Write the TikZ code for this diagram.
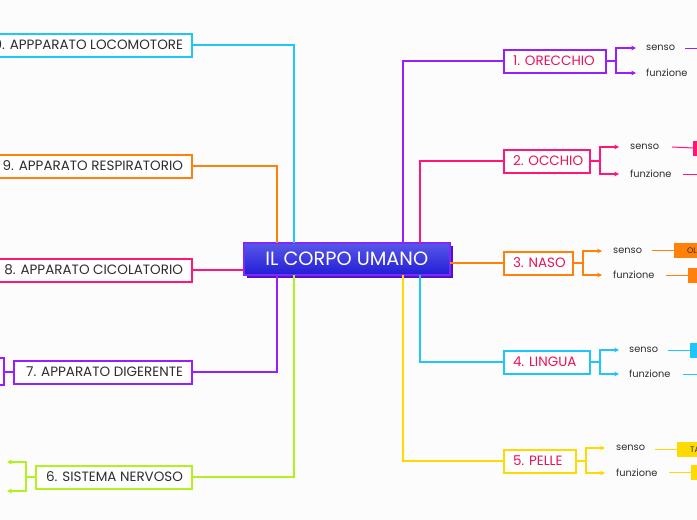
\documentclass[tikz,border=0pt]{standalone}
\usepackage{fontspec}
\setmainfont{Poppins}
\usetikzlibrary{arrows.meta}
\definecolor{cCyan}{RGB}{30,198,250}
\definecolor{cOrange}{RGB}{255,128,10}
\definecolor{cPink}{RGB}{255,22,118}
\definecolor{cViolet}{RGB}{150,30,255}
\definecolor{cLime}{RGB}{178,240,30}
\definecolor{cYellow}{RGB}{255,218,0}
\definecolor{txt}{RGB}{45,45,50}
\definecolor{crim}{RGB}{232,20,85}
\definecolor{bg}{RGB}{252,252,252}
\definecolor{ctop}{RGB}{88,88,232}
\definecolor{cbot}{RGB}{34,28,214}
\definecolor{cborder}{RGB}{125,40,255}
\definecolor{cshadow}{RGB}{80,20,200}
\tikzset{
  boxbase/.style={draw, line width=2pt, fill=white, minimum height=23pt, inner xsep=9pt, inner ysep=0pt, font=\fontsize{13.5}{14}\selectfont},
  leftbox/.style={boxbase, anchor=east, text=txt},
  rightbox/.style={boxbase, anchor=west, text=crim},
  lbl/.style={anchor=west, inner sep=0pt, font=\fontsize{9.8}{11}\selectfont, text=txt},
  conn/.style={line width=1.2pt},
  arr/.style={conn, -{Triangle[length=4.5pt,width=4.5pt]}},
  kid/.style={anchor=west, minimum height=15pt, minimum width=60pt, inner sep=0pt, font=\fontsize{8}{9}\selectfont, text=txt, text width=52pt, align=left},
}
\begin{document}
\begin{tikzpicture}[x=1pt,y=-1pt]
\useasboundingbox (0,0) rectangle (697,520);
\clip (0,0) rectangle (697,520);
\fill[bg] (0,0) rectangle (697,520);

% central node
\fill[cshadow] (246.5,246) rectangle (453,278);
\node[draw=cborder, line width=1.5pt, top color=ctop, bottom color=cbot, minimum width=206pt, minimum height=32pt, inner sep=0pt, text=white, font=\fontsize{19.3}{20}\selectfont] (c) at (346.75,259) {IL CORPO UMANO};

% left nodes
\node[leftbox, draw=cCyan] (n10) at (193,45) {\makebox[192pt][r]{10. APPPARATO LOCOMOTORE}};
\node[leftbox, draw=cOrange] (n9) at (193,166) {\makebox[183pt][r]{9. APPARATO RESPIRATORIO}};
\node[leftbox, draw=cPink] (n8) at (193,270) {\makebox[175pt][r]{8. APPARATO CICOLATORIO}};
\node[leftbox, draw=cViolet] (n7) at (193,372) {\makebox[160pt][r]{7. APPARATO DIGERENTE}};
\node[leftbox, draw=cLime] (n6) at (193,477) {\makebox[138pt][r]{6. SISTEMA NERVOSO}};

% right nodes
\node[rightbox, draw=cViolet] (n1) at (503,61) {\makebox[84pt][l]{1. ORECCHIO}};
\node[rightbox, draw=cPink] (n2) at (503,161) {\makebox[68pt][l]{2. OCCHIO}};
\node[rightbox, draw=cOrange] (n3) at (503,263) {\makebox[51pt][l]{3. NASO}};
\node[rightbox, draw=cCyan] (n4) at (503,362) {\makebox[68pt][l]{4. LINGUA}};
\node[rightbox, draw=cYellow] (n5) at (503,461) {\makebox[54pt][l]{5. PELLE}};

% coordinates on the central node
\coordinate (t277) at (277,243);
\coordinate (t294) at (294,243);
\coordinate (t403) at (403,243);
\coordinate (t420) at (420,243);
\coordinate (b277) at (277,275);
\coordinate (b294) at (294,275);
\coordinate (b403) at (403,275);
\coordinate (b420) at (420,275);
\coordinate (w270) at (243.5,270);
\coordinate (e263) at (450,263);

% main connectors
\draw[conn, cCyan] (n10.east) -| (t294);
\draw[conn, cOrange] (n9.east) -| (t277);
\draw[conn, cPink] (n8.east) -- (w270);
\draw[conn, cViolet] (n7.east) -| (b277);
\draw[conn, cLime] (n6.east) -| (b294);
\draw[conn, cViolet] (t403) |- (n1.west);
\draw[conn, cPink] (t420) |- (n2.west);
\draw[conn, cOrange] (e263) -- (n3.west);
\draw[conn, cCyan] (b420) |- (n4.west);
\draw[conn, cYellow] (b403) |- (n5.west);

% left forks
\coordinate (f7) at (4,372);
\coordinate (f7a) at (-12,358);
\coordinate (f7b) at (-12,385);
\draw[conn, cViolet] (n7.west) -- (f7);
\draw[arr, cViolet] (f7) |- (f7a);
\draw[arr, cViolet] (f7) |- (f7b);
\coordinate (f6) at (26,477);
\coordinate (f6a) at (7,462);
\coordinate (f6b) at (7,491);
\draw[conn, cLime] (n6.west) -- (f6);
\draw[arr, cLime] (f6) |- (f6a);
\draw[arr, cLime] (f6) |- (f6b);

% labels
\node[lbl] (s1) at (646,48) {senso};
\node[lbl] (u1) at (646,73) {funzione};
\node[lbl] (s2) at (630,147) {senso};
\node[lbl] (u2) at (630,174) {funzione};
\node[lbl] (s3) at (613,251) {senso};
\node[lbl] (u3) at (613,275) {funzione};
\node[lbl] (s4) at (629,350) {senso};
\node[lbl] (u4) at (629,374) {funzione};
\node[lbl] (s5) at (616,448) {senso};
\node[lbl] (u5) at (616,473) {funzione};

% right forks
\coordinate (f1) at (616,61);
\draw[conn, cViolet] (n1.east) -- (f1);
\draw[arr, cViolet] (f1) |- ([xshift=-10pt]s1.west);
\draw[arr, cViolet] (f1) |- ([xshift=-10pt]u1.west);
\coordinate (f2) at (600,161);
\draw[conn, cPink] (n2.east) -- (f2);
\draw[arr, cPink] (f2) |- ([xshift=-11pt]s2.west);
\draw[arr, cPink] (f2) |- ([xshift=-11pt]u2.west);
\coordinate (f3) at (583,263);
\draw[conn, cOrange] (n3.east) -- (f3);
\draw[arr, cOrange] (f3) |- ([xshift=-11pt]s3.west);
\draw[arr, cOrange] (f3) |- ([xshift=-11pt]u3.west);
\coordinate (f4) at (600,362);
\draw[conn, cCyan] (n4.east) -- (f4);
\draw[arr, cCyan] (f4) |- ([xshift=-10pt]s4.west);
\draw[arr, cCyan] (f4) |- ([xshift=-10pt]u4.west);
\coordinate (f5) at (586,461);
\draw[conn, cYellow] (n5.east) -- (f5);
\draw[arr, cYellow] (f5) |- ([xshift=-11pt]s5.west);
\draw[arr, cYellow] (f5) |- ([xshift=-11pt]u5.west);

% grandchildren (cut at the right edge)
\node[kid, fill=cPink] (k2) at (693,148) {};
\node[kid, fill=cOrange] (k3) at (674,250.5) {\hspace*{9pt}OLFATTO};
\node[kid, fill=cOrange] (k3b) at (688,275.5) {};
\node[kid, fill=cCyan] (k4) at (690,350) {};
\node[kid, fill=cYellow] (k5) at (677,449.5) {\hspace*{9pt}TATTO};
\node[kid, fill=cYellow] (k5b) at (691,472.5) {};
\coordinate (x1) at (700,48);
\coordinate (x2) at (700,174);
\coordinate (x4) at (700,374);

\draw[conn, cViolet, line width=1pt] (685,48) -- (x1);
\draw[conn, cPink, line width=1pt] (672,147) -- (k2.west);
\draw[conn, cPink, line width=1pt] (683,174) -- (x2);
\draw[conn, cOrange, line width=1pt] (652,250.5) -- (k3.west);
\draw[conn, cOrange, line width=1pt] (666,275.5) -- (k3b.west);
\draw[conn, cCyan, line width=1pt] (668,350) -- (k4.west);
\draw[conn, cCyan, line width=1pt] (683,374) -- (x4);
\draw[conn, cYellow, line width=1pt] (655,449.5) -- (k5.west);
\draw[conn, cYellow, line width=1pt] (669,472.5) -- (k5b.west);
\end{tikzpicture}
\end{document}
